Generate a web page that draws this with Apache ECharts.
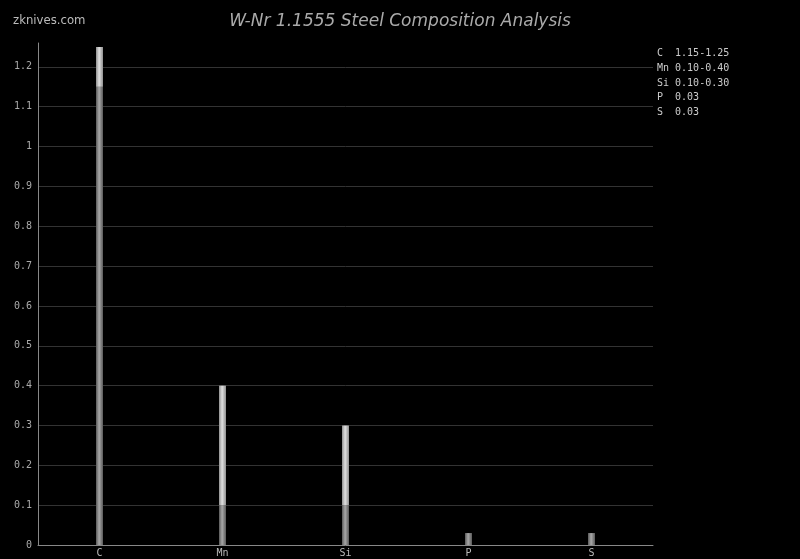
<!DOCTYPE html>
<html>
<head>
<meta charset="utf-8">
<script src="https://cdn.jsdelivr.net/npm/echarts@6/dist/echarts.min.js"></script>
<style>
html,body{margin:0;padding:0;background:#000;}
#chart{width:800px;height:559px;}
</style>
</head>
<body>
<div id="chart"></div>
<script>
const elements = ['C', 'Mn', 'Si', 'P', 'S'];
const minValues = [1.15, 0.10, 0.10, 0.03, 0.03];
const maxValues = [1.25, 0.40, 0.30, 0.03, 0.03];
const rangeLabels = ['1.15-1.25', '0.10-0.40', '0.10-0.30', '0.03', '0.03'];

const rangeValues = maxValues.map((v, i) => +(v - minValues[i]).toFixed(4));
const legendText = elements.map((e, i) => (e + '   ').slice(0, 3) + rangeLabels[i]).join('\n');

function grad(edge, mid) {
  return new echarts.graphic.LinearGradient(0, 0, 1, 0, [
    {offset: 0, color: edge}, {offset: 0.45, color: mid}, {offset: 1, color: edge}
  ]);
}

const chart = echarts.init(document.getElementById('chart'));
chart.setOption({
  backgroundColor: '#000',
  animation: false,
  title: [
    {
      text: 'W-Nr 1.1555 Steel Composition Analysis',
      left: 'center', top: 8,
      textStyle: {color: '#aaa', fontFamily: 'DejaVu Sans', fontStyle: 'italic', fontWeight: 'normal', fontSize: 17}
    },
    {
      text: 'zknives.com',
      left: 8, top: 9,
      textStyle: {color: '#bbb', fontFamily: 'DejaVu Sans Condensed', fontWeight: 'normal', fontSize: 13}
    },
    {
      text: legendText,
      left: 652, top: 41,
      textStyle: {color: '#ccc', fontFamily: 'DejaVu Sans Mono', fontWeight: 'normal', fontSize: 10, lineHeight: 14.8}
    }
  ],
  grid: {left: 38, right: 147, top: 43, bottom: 14, containLabel: false},
  xAxis: {
    type: 'category',
    data: elements,
    axisLine: {lineStyle: {color: '#888', width: 1}},
    axisTick: {show: false},
    axisLabel: {color: '#bbb', fontFamily: 'DejaVu Sans Mono', fontSize: 10, margin: 3}
  },
  yAxis: {
    type: 'value',
    min: 0, max: 1.26, interval: 0.1,
    axisLine: {show: true, lineStyle: {color: '#888', width: 1}},
    axisTick: {show: false},
    axisLabel: {color: '#aaa', fontFamily: 'DejaVu Sans Mono', fontSize: 10, margin: 6, showMaxLabel: false,
      formatter: v => String(+v.toFixed(2))},
    splitLine: {show: true, showMaxLine: false, lineStyle: {color: '#333', width: 1}}
  },
  series: [
    {
      type: 'bar', stack: 'comp', barWidth: 7,
      data: minValues,
      itemStyle: {color: grad('#5a5a5a', '#a8a8a8')}
    },
    {
      type: 'bar', stack: 'comp', barWidth: 7,
      data: rangeValues,
      itemStyle: {color: grad('#909090', '#e0e0e0')}
    }
  ]
});
</script>
</body>
</html>
